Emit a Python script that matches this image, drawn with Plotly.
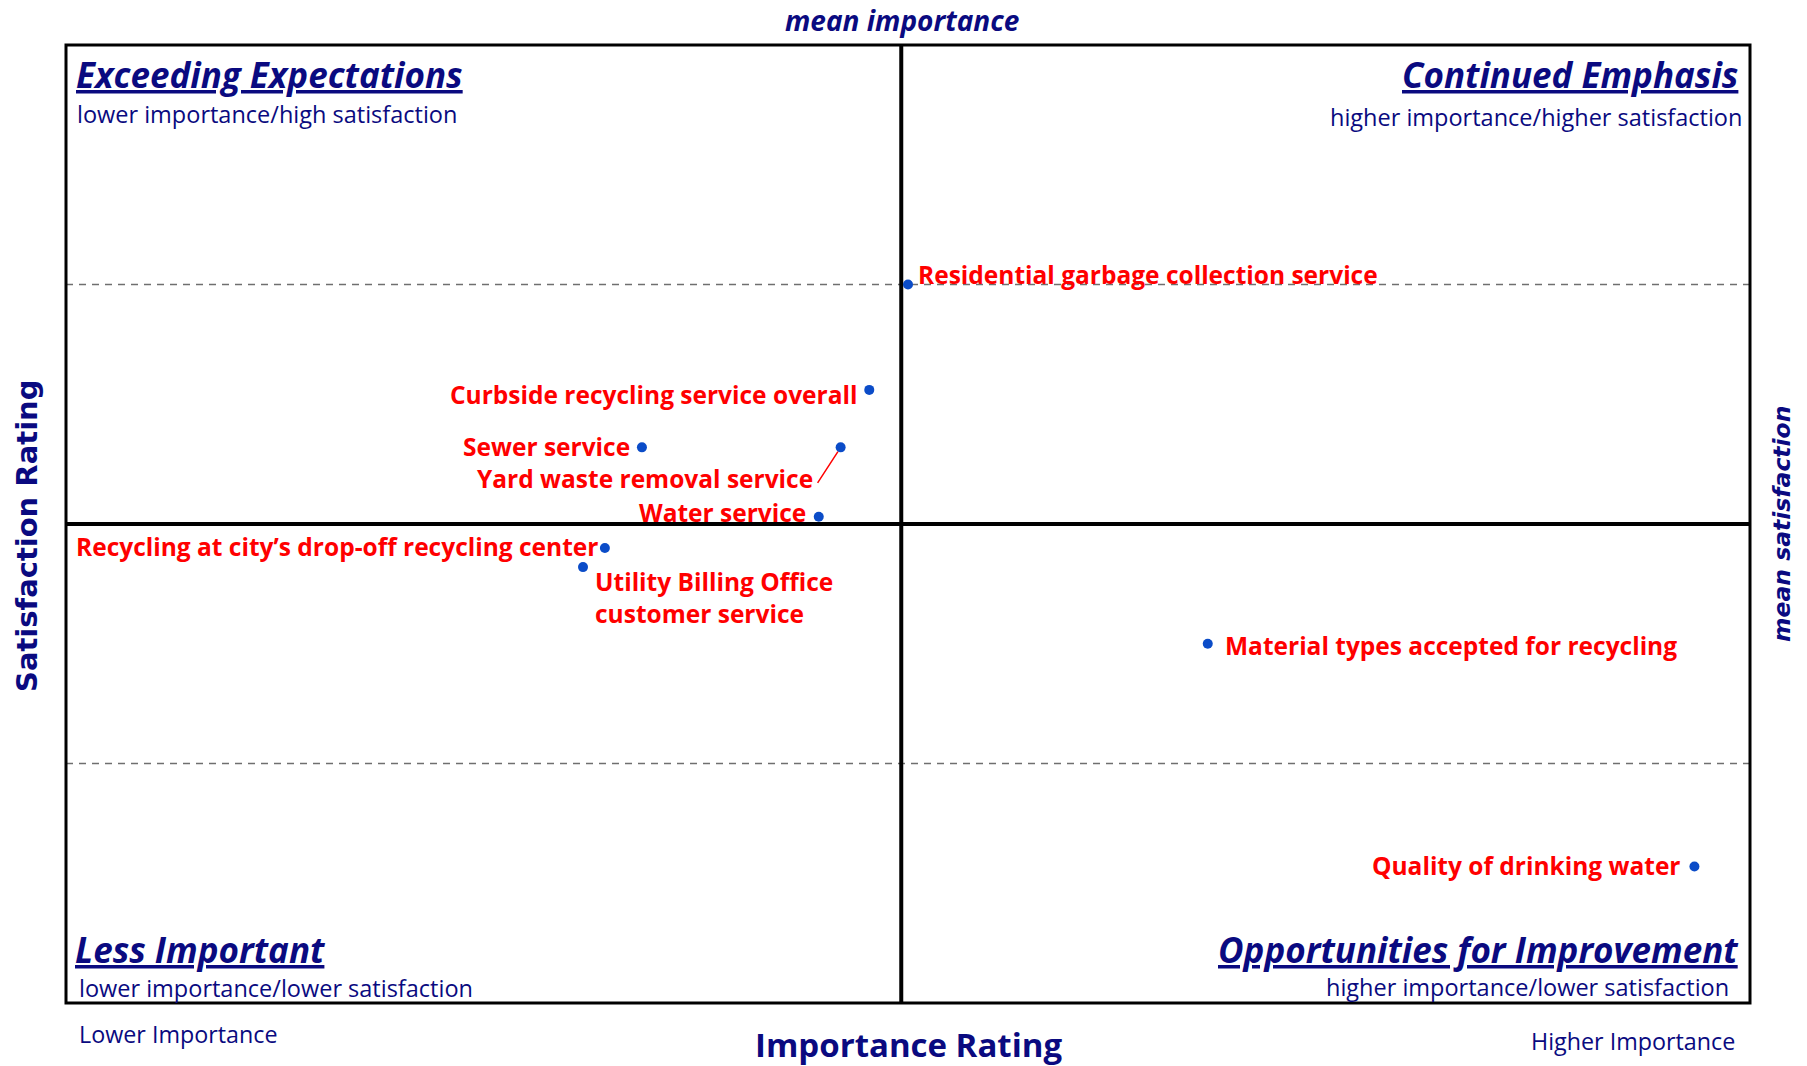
import plotly.graph_objects as go

# ---------------- data ----------------
services = [
    "Residential garbage collection service",
    "Curbside recycling service overall",
    "Sewer service",
    "Yard waste removal service",
    "Water service",
    "Recycling at city\u2019s drop-off recycling center",
    "Utility Billing Office<br>customer service",
    "Material types accepted for recycling",
    "Quality of drinking water",
]
importance = [50.0, 47.7, 34.2, 46.0, 44.7, 32.0, 30.7, 67.8, 96.7]
satisfaction = [90.0, 85.6, 83.2, 83.2, 80.3, 79.0, 78.2, 75.0, 65.7]

mean_importance = 49.6
mean_satisfaction = 80.0
satisfaction_bands = [70.0, 90.0]
x_range = [0, 100]
y_range = [60, 100]

quadrant_titles = ["Exceeding Expectations", "Continued Emphasis",
                   "Less Important", "Opportunities for Improvement"]
quadrant_subtitles = ["lower importance/high satisfaction",
                      "higher importance/higher satisfaction",
                      "lower importance/lower satisfaction",
                      "higher importance/lower satisfaction"]

# ---------------- layout constants ----------------
W, H = 1807, 1066
L, R, T, B = 66, 1750, 45, 1003
NAVY = "#0A0A80"
RED = "#FF0000"
DOT = "#0B4CC8"
CAL = "Open Sans, Lato, sans-serif"
VER = "DejaVu Sans, Verdana, sans-serif"


def px(x, y):
    return (x - L) / (R - L), (B - y) / (B - T)


fig = go.Figure()
fig.add_trace(go.Scatter(
    x=importance, y=satisfaction, mode="markers",
    marker=dict(size=10, color=DOT), hoverinfo="text", text=services,
    showlegend=False,
))

# label placement: (xanchor, xshift, yshift)
label_pos = [
    ("left", 8, 10),
    ("right", -10, -5),
    ("right", -10, 1),
    ("right", -26, -31),
    ("right", -11, 4),
    ("right", -5, 1),
    ("left", 10, -30),
    ("left", 15, -2),
    ("right", -11, 1),
]
annotations = []
for name, xi, yi, (xa, xs, ys) in zip(services, importance, satisfaction, label_pos):
    annotations.append(dict(
        x=xi, y=yi, xref="x", yref="y", text="<b>%s</b>" % name, showarrow=False,
        xanchor=xa, yanchor="middle", xshift=xs, yshift=ys, align="left",
        font=dict(family=CAL, size=24.5, color=RED),
    ))
# leader line for yard waste
yi = services.index("Yard waste removal service")
annotations.append(dict(
    x=importance[yi], y=satisfaction[yi], xref="x", yref="y", text="",
    showarrow=True, arrowhead=0, arrowwidth=1.5, arrowcolor=RED,
    ax=-24, ay=37, standoff=5,
))


def txt(text, x, y, xanchor, size, family=CAL, angle=0, yanchor="middle"):
    xp, yp = px(x, y)
    annotations.append(dict(
        x=xp, y=yp, xref="paper", yref="paper", text=text, showarrow=False,
        xanchor=xanchor, yanchor=yanchor, textangle=angle,
        font=dict(family=family, size=size, color=NAVY),
    ))


# quadrant titles
txt("<b><i><u>%s</u></i></b>" % quadrant_titles[0], 74, 75, "left", 35)
txt(quadrant_subtitles[0], 75, 114, "left", 23.5)
txt("<b><i><u>%s</u></i></b>" % quadrant_titles[1], 1740, 75, "right", 35)
txt(quadrant_subtitles[1], 1744, 117, "right", 23.5)
txt("<b><i><u>%s</u></i></b>" % quadrant_titles[2], 73, 949, "left", 35)
txt(quadrant_subtitles[2], 77, 988, "left", 23.5)
txt("<b><i><u>%s</u></i></b>" % quadrant_titles[3], 1741, 949, "right", 35)
txt(quadrant_subtitles[3], 1731, 987, "right", 23.5)

# axis labels
txt("Lower Importance", 77, 1034, "left", 23.3)
txt("Higher Importance", 1737, 1041, "right", 23.3)
txt("<b>Importance Rating</b>", 908, 1044, "center", 33)
txt("<b><i>mean importance</i></b>", 902, 20, "center", 28)
txt("<b>Satisfaction Rating</b>", 27, 536, "center", 29, family=VER, angle=-90)
txt("<b><i>mean satisfaction</i></b>", 1782, 524, "center", 23.5, family=VER, angle=-90)

shapes = []
# dashed satisfaction band lines
for yb in satisfaction_bands:
    shapes.append(dict(type="line", xref="x", yref="y", x0=x_range[0], x1=x_range[1],
                       y0=yb, y1=yb, layer="below",
                       line=dict(color="#6f6f6f", width=1.5, dash="7px,6px")))
# mean lines
shapes.append(dict(type="line", xref="x", yref="y", x0=mean_importance, x1=mean_importance,
                   y0=y_range[0], y1=y_range[1], layer="below",
                   line=dict(color="black", width=4)))
shapes.append(dict(type="line", xref="x", yref="y", x0=x_range[0], x1=x_range[1],
                   y0=mean_satisfaction, y1=mean_satisfaction, layer="below",
                   line=dict(color="black", width=4)))
# border
shapes.append(dict(type="rect", xref="paper", yref="paper", x0=0, x1=1, y0=0, y1=1,
                   line=dict(color="black", width=3)))

fig.update_layout(
    width=W, height=H,
    margin=dict(l=L, r=W - R, t=T, b=H - B, autoexpand=False),
    paper_bgcolor="white", plot_bgcolor="white",
    xaxis=dict(range=x_range, visible=False, fixedrange=True),
    yaxis=dict(range=y_range, visible=False, fixedrange=True),
    annotations=annotations, shapes=shapes,
    showlegend=False,
)

fig.write_html("out.html", post_script="document.body.style.margin='0';",
               config={"displayModeBar": False})
